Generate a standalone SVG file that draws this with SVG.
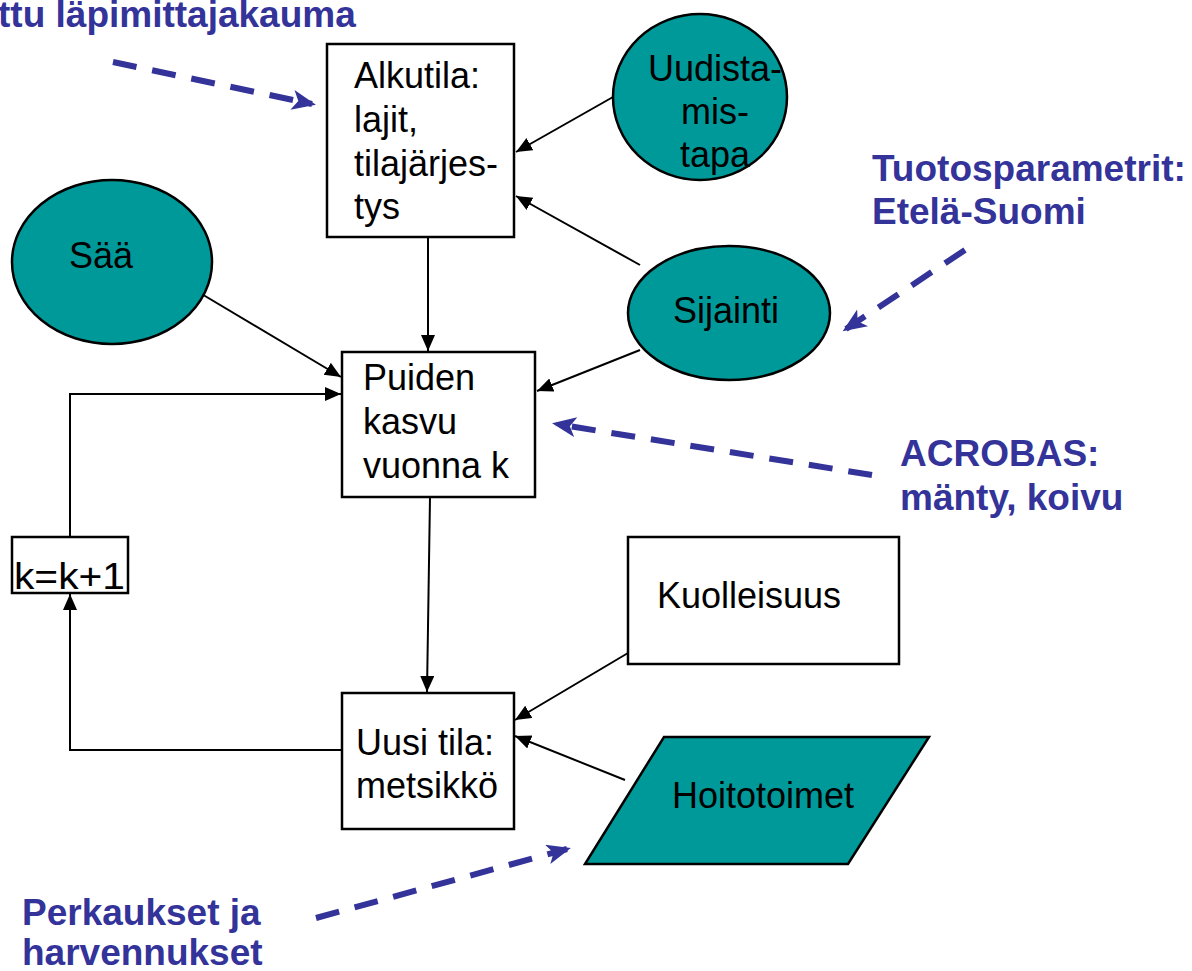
<svg xmlns="http://www.w3.org/2000/svg" width="1192" height="971" viewBox="0 0 1192 971">
  <defs>
    <style>
      .box { fill: #ffffff; stroke: #000000; stroke-width: 2.5; }
      .teal { fill: #009999; stroke: #000000; stroke-width: 2.5; }
      .lbl { font-family: "Liberation Sans", Arial, sans-serif; font-size: 36px; fill: #000000; }
      .note { font-family: "Liberation Sans", Arial, sans-serif; font-size: 37px; font-weight: bold; fill: #333399; }
      .flow { fill: none; stroke: #000000; stroke-width: 2; marker-end: url(#arrow); }
      .hint { fill: none; stroke: #333399; stroke-width: 6; stroke-dasharray: 24 16; marker-end: url(#stealth); }
    </style>
    <marker id="arrow" markerUnits="userSpaceOnUse" markerWidth="18" markerHeight="16" refX="16" refY="7" orient="auto">
      <path d="M0,0 L16,7 L0,14 z" fill="#000000"/>
    </marker>
    <marker id="stealth" markerUnits="userSpaceOnUse" markerWidth="26" markerHeight="22" refX="20" refY="10" orient="auto">
      <path d="M0,0 L24,10 L0,20 L6,10 z" fill="#333399"/>
    </marker>
  </defs>

  <!-- connectors -->
  <g id="connectors">
    <path class="flow" d="M428,237 L428,351"/>
    <path class="flow" d="M613,97 L516,152"/>
    <path class="flow" d="M640,265 L516,196"/>
    <path class="flow" d="M200,293 L341,377"/>
    <path class="flow" d="M640,350 L537,391"/>
    <path class="flow" d="M70,537 L70,394 L341,394"/>
    <path class="flow" d="M430,497 L427,692"/>
    <path class="flow" d="M342,750 L70,750 L70,594"/>
    <path class="flow" d="M628,653 L515,720"/>
    <path class="flow" d="M625,780 L515,736"/>

    <path class="hint" d="M113,62 L312,104"/>
    <path class="hint" d="M965,250 L846,329"/>
    <path class="hint" d="M872,475 L556,424"/>
    <path class="hint" d="M316,918 L567,849"/>
  </g>

  <!-- nodes -->
  <g id="alkutila">
    <rect class="box" x="327" y="44" width="187" height="193"/>
    <text class="lbl" x="354" y="88">Alkutila:</text>
    <text class="lbl" x="354" y="132">lajit,</text>
    <text class="lbl" x="354" y="176">tilajärjes-</text>
    <text class="lbl" x="354" y="219">tys</text>
  </g>

  <g id="uudistamistapa">
    <ellipse class="teal" cx="700" cy="97" rx="87" ry="83"/>
    <text class="lbl" x="715" y="81" text-anchor="middle">Uudista-</text>
    <text class="lbl" x="715" y="124" text-anchor="middle">mis-</text>
    <text class="lbl" x="715" y="167" text-anchor="middle">tapa</text>
  </g>

  <g id="saa">
    <ellipse class="teal" cx="112" cy="262" rx="100" ry="82"/>
    <text class="lbl" x="101" y="268" text-anchor="middle">Sää</text>
  </g>

  <g id="sijainti">
    <ellipse class="teal" cx="729" cy="313" rx="101" ry="67"/>
    <text class="lbl" x="726" y="323" text-anchor="middle">Sijainti</text>
  </g>

  <g id="puiden-kasvu">
    <rect class="box" x="342" y="352" width="193" height="145"/>
    <text class="lbl" x="363" y="390">Puiden</text>
    <text class="lbl" x="363" y="434">kasvu</text>
    <text class="lbl" x="363" y="478">vuonna k</text>
  </g>

  <g id="laskuri">
    <rect class="box" x="12" y="537" width="116" height="56"/>
    <text class="lbl" x="14" y="589" textLength="111" lengthAdjust="spacingAndGlyphs">k=k+1</text>
  </g>

  <g id="kuolleisuus">
    <rect class="box" x="628" y="537" width="271" height="127"/>
    <text class="lbl" x="657" y="608">Kuolleisuus</text>
  </g>

  <g id="uusi-tila">
    <rect class="box" x="342" y="693" width="172" height="136"/>
    <text class="lbl" x="356" y="755">Uusi tila:</text>
    <text class="lbl" x="356" y="798">metsikkö</text>
  </g>

  <g id="hoitotoimet">
    <polygon class="teal" points="664,737 929,737 848,864 585,864"/>
    <text class="lbl" x="672" y="808">Hoitotoimet</text>
  </g>

  <!-- annotations -->
  <g id="note-lapimitta">
    <text class="note" x="-2" y="27">ttu läpimittajakauma</text>
  </g>
  <g id="note-tuotos">
    <text class="note" x="872" y="181">Tuotosparametrit:</text>
    <text class="note" x="872" y="224">Etelä-Suomi</text>
  </g>
  <g id="note-acrobas">
    <text class="note" x="900" y="466">ACROBAS:</text>
    <text class="note" x="900" y="510">mänty, koivu</text>
  </g>
  <g id="note-perkaus">
    <text class="note" x="22" y="925">Perkaukset ja</text>
    <text class="note" x="22" y="965">harvennukset</text>
  </g>
</svg>
